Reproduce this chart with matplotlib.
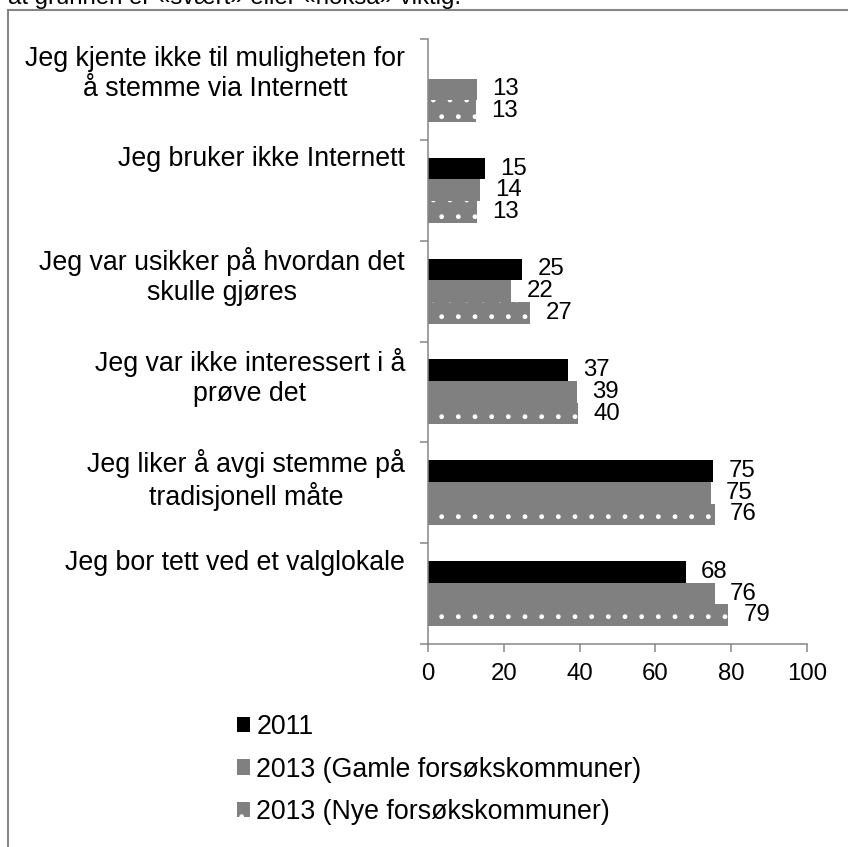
import matplotlib.pyplot as plt
import numpy as np
from matplotlib.lines import Line2D

plt.rcParams['font.family'] = ['Liberation Sans', 'DejaVu Sans']

# data
categories = [
    "Jeg kjente ikke til muligheten for\nå stemme via Internett",
    "Jeg bruker ikke Internett",
    "Jeg var usikker på hvordan det\nskulle gjøres",
    "Jeg var ikke interessert i å\nprøve det",
    "Jeg liker å avgi stemme på\ntradisjonell måte",
    "Jeg bor tett ved et valglokale",
]
series = ["2011", "2013 (Gamle forsøkskommuner)", "2013 (Nye forsøkskommuner)"]
v2011 = [np.nan, 15.0, 24.8, 36.9, 75.2, 68.0]
v_gamle = [12.9, 13.6, 22.0, 39.3, 74.6, 75.7]
v_nye = [12.6, 12.8, 27.0, 39.6, 75.7, 79.2]
xticks = [0, 20, 40, 60, 80, 100]
top_text = "at grunnen er «svært» eller «noksa» viktig."

grey = '#868686'
W, H = 848, 847

fig = plt.figure(figsize=(W / 100, H / 100), dpi=100)
ax = fig.add_axes([428 / W, 1 - 644 / H, 379 / W, 605 / H])

y = np.arange(len(categories))
h = 0.215
b1 = ax.barh(y - h, v2011, height=h, color='black')
b2 = ax.barh(y, v_gamle, height=h, color='#808080')
b3 = ax.barh(y + h, v_nye, height=h, color='#808080', edgecolor='white',
             linewidth=0, hatch='.')

# value labels
for vals, off in [(v2011, -h), (v_gamle, 0), (v_nye, h)]:
    for i, v in enumerate(vals):
        if np.isnan(v):
            continue
        ax.annotate("{:.0f}".format(v), (v, i + off), xytext=(11, 0),
                    textcoords='offset points', ha='left', va='center',
                    fontsize=17.3)

ax.set_xlim(0, 100)
ax.set_ylim(len(categories) - 0.5, -0.5)
ax.set_xticks(xticks)
ax.set_yticks(np.arange(-0.5, len(categories), 1))
ax.set_yticklabels([])

for s in ['top', 'right']:
    ax.spines[s].set_visible(False)
for s in ['left', 'bottom']:
    ax.spines[s].set_color(grey)
    ax.spines[s].set_linewidth(1.1)
ax.tick_params(axis='y', length=6, width=1.1, color=grey)
ax.tick_params(axis='x', length=6, width=1.1, color=grey, labelsize=17.3, pad=8)

# category labels: block right-aligned to the axis, lines centred
for i, lab in enumerate(categories):
    ax.text(-23 / 379, i - 0.5 + 0.065, lab, transform=ax.get_yaxis_transform(),
            ha='right', va='top', multialignment='center', fontsize=19.3)

fig.legend(handles=[b1, b2, b3], labels=series, loc='upper left',
           bbox_to_anchor=(237 / W, 1 - 714 / H), frameon=False, fontsize=19.3,
           handlelength=0.5, handleheight=0.5, handletextpad=0.22,
           labelspacing=0.62, borderpad=0, borderaxespad=0)

# chart frame (cut off at right and bottom) and the clipped text above it
fig.add_artist(Line2D([8 / W, 1], [1 - 10 / H, 1 - 10 / H], transform=fig.transFigure,
                      color=grey, lw=1.5))
fig.add_artist(Line2D([8 / W, 8 / W], [0, 1 - 10 / H], transform=fig.transFigure,
                      color=grey, lw=1.5))
fig.text(8 / W, 1 - 4 / H, top_text, ha='left', va='baseline', fontsize=17.3)

plt.savefig('out.png', dpi=100)
